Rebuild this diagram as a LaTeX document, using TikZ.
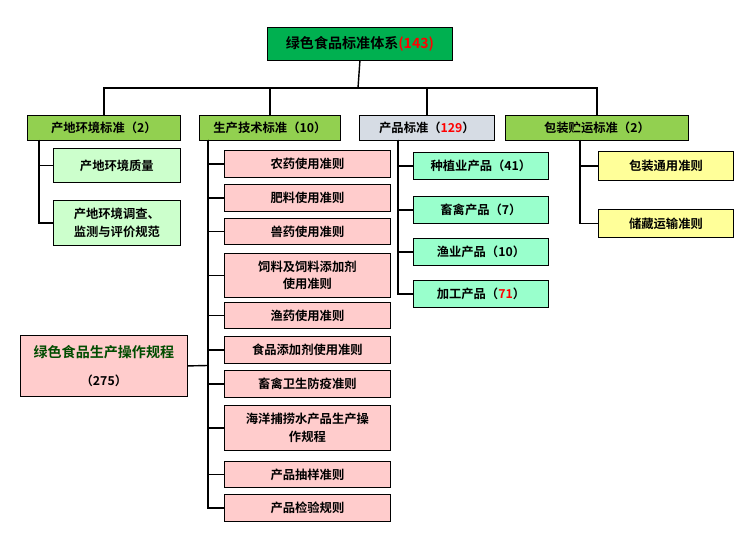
\documentclass[tikz,border=0pt]{standalone}
\usepackage{fontspec}
\setmainfont{Noto Sans CJK SC}[BoldFont={* Bold}]
\usetikzlibrary{positioning}
\definecolor{topGreen}{RGB}{0,176,80}
\definecolor{levelGreen}{RGB}{146,208,80}
\definecolor{levelGrey}{RGB}{214,220,228}
\definecolor{envGreen}{RGB}{204,255,204}
\definecolor{techPink}{RGB}{255,204,204}
\definecolor{prodAqua}{RGB}{153,255,204}
\definecolor{packYellow}{RGB}{255,255,153}
\tikzstyle{boxStyle} = [draw=black, inner sep=1pt, align=center, font=\fontsize{7}{10}\selectfont\bfseries]
\tikzstyle{linkLine} = [color=black, thick]
\newcommand{\red}[1]{\textcolor{red}{#1}}
% #1 name, #2 left, #3 top, #4 width, #5 height, #6 colour, #7 text
\newcommand{\stdBox}[7]{\node [boxStyle, fill=#6, minimum width=#4*0.02cm, minimum height=#5*0.02cm, anchor=north west] (#1) at (#2*0.02, -#3*0.02) {#7};}

\begin{document}
\begin{tikzpicture}
  \useasboundingbox (0,0) rectangle (15,-10.78);
  \stdBox{root}{267}{27}{185}{33}{topGreen}{\fontsize{8}{10}\selectfont 绿色食品标准体系\red{(143)}}
  \stdBox{env}{27}{115}{153}{25}{levelGreen}{产地环境标准（2）}
  \stdBox{tech}{199}{115}{141}{25}{levelGreen}{生产技术标准（10）}
  \stdBox{prod}{359}{115}{135}{25}{levelGrey}{产品标准（\red{129}）}
  \stdBox{pack}{505}{115}{183}{25}{levelGreen}{包装贮运标准（2）}
  \coordinate (bus) at (7.16,-1.76);
  \draw [linkLine] (root.south) -- (bus);
  \draw [linkLine] (env.north) |- (bus) -| (pack.north);
  \draw [linkLine] (tech.north) -- (tech.north |- bus);
  \draw [linkLine] (prod.north) -- (prod.north |- bus);

  \stdBox{envA}{53}{148}{127}{34}{envGreen}{产地环境质量}
  \stdBox{envB}{53}{200}{127}{45}{envGreen}{产地环境调查、\\监测与评价规范}
  \foreach \child in {envA, envB}
    \draw [linkLine] (0.78,-2.8) |- (\child.west);

  \stdBox{techA}{224}{150}{166}{27}{techPink}{农药使用准则}
  \stdBox{techB}{224}{184}{166}{27}{techPink}{肥料使用准则}
  \stdBox{techC}{224}{218}{166}{26}{techPink}{兽药使用准则}
  \stdBox{techD}{224}{253}{166}{44}{techPink}{饲料及饲料添加剂\\使用准则}
  \stdBox{techE}{224}{302}{166}{26}{techPink}{渔药使用准则}
  \stdBox{techF}{224}{336}{166}{27}{techPink}{食品添加剂使用准则}
  \stdBox{techG}{224}{370}{166}{27}{techPink}{畜禽卫生防疫准则}
  \stdBox{techH}{224}{405}{166}{45}{techPink}{海洋捕捞水产品生产操\\作规程}
  \stdBox{techI}{224}{461}{166}{26}{techPink}{产品抽样准则}
  \stdBox{techJ}{224}{494}{166}{27}{techPink}{产品检验规则}
  \foreach \child in {techA, techB, techC, techD, techE, techF, techG, techH, techI, techJ}
    \draw [linkLine] (4.16,-2.8) |- (\child.west);
  \stdBox{rules}{20}{335}{167}{61}{techPink}{\fontsize{8}{10}\selectfont\color{black!70!green}绿色食品生产操作规程\\[6pt]（275）}
  \draw [linkLine] (rules.east) -- (4.16,-7.31);

  \stdBox{prodA}{413}{152}{135}{27}{prodAqua}{种植业产品（41）}
  \stdBox{prodB}{413}{196}{135}{27}{prodAqua}{畜禽产品（7）}
  \stdBox{prodC}{413}{238}{135}{27}{prodAqua}{渔业产品（10）}
  \stdBox{prodD}{413}{280}{135}{27}{prodAqua}{加工产品（\red{71}）}
  \foreach \child in {prodA, prodB, prodC, prodD}
    \draw [linkLine] (7.96,-2.8) |- (\child.west);

  \stdBox{packA}{598}{151}{135}{29}{packYellow}{包装通用准则}
  \stdBox{packB}{598}{209}{135}{28}{packYellow}{储藏运输准则}
  \foreach \child in {packA, packB}
    \draw [linkLine] (11.6,-2.8) |- (\child.west);
\end{tikzpicture}
\end{document}
